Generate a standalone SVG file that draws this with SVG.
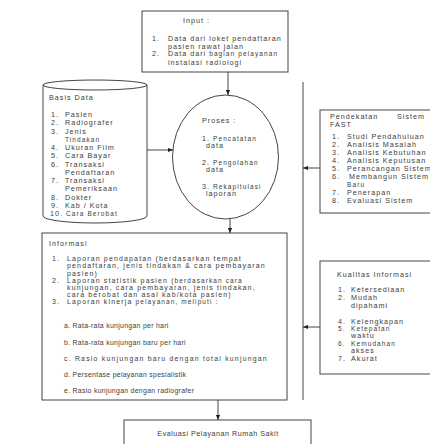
<svg xmlns="http://www.w3.org/2000/svg" width="430" height="444" viewBox="0 0 430 444">
<style>
.t{font-family:"Liberation Sans",Arial,sans-serif;font-size:7.2px;fill:#3c3c3c;letter-spacing:1px}
.i{font-size:7px;letter-spacing:1.15px}
.s{font-size:6.5px;letter-spacing:1.1px}
.m{font-size:6.9px;letter-spacing:0.3px}
.box{fill:#fff;stroke:#444;stroke-width:1}
.ln{fill:none;stroke:#444;stroke-width:1}
</style>
<defs>
<marker id="ah" viewBox="0 0 6 6" refX="6" refY="3" markerWidth="5" markerHeight="5" orient="auto"><path d="M0,0.5 L6,3 L0,5.5 z" fill="#222"/></marker>
</defs>
<rect width="430" height="444" fill="#fff"/>

<g id="outer-right">
<path class="ln" d="M303,82 V400"/>
</g>

<g id="input">
<rect class="box" x="142" y="11" width="146" height="61"/>
<text class="t" x="183" y="23">Input :</text>
<text class="t" x="152" y="41">1.</text>
<text class="t" x="168" y="41">Data dari loket pendaftaran</text>
<text class="t" x="168" y="48.5">pasien rawat jalan</text>
<text class="t" x="152" y="56">2.</text>
<text class="t" x="168" y="56">Data dari <tspan class="s">bagian pelayanan</tspan></text>
<text class="t" x="168" y="65">instalasi radiologi</text>
</g>

<g id="basis-data">
<path class="box" d="M43,85 V216 A52,7 0 0 0 147,216 V85"/>
<ellipse class="box" cx="95" cy="85" rx="52" ry="5"/>
<text class="t" x="49" y="100">Basis Data</text>
<text class="t" x="51" y="117">1.</text><text class="t" x="65" y="117">Pasien</text>
<text class="t" x="51" y="125.2">2.</text><text class="t" x="65" y="125.2">Radiografer</text>
<text class="t" x="51" y="133.5">3.</text><text class="t" x="65" y="133.5">Jenis</text>
<text class="t s" x="65" y="141.7">Tindakan</text>
<text class="t" x="51" y="150">4.</text><text class="t" x="65" y="150">Ukuran Film</text>
<text class="t" x="51" y="158.2">5.</text><text class="t" x="65" y="158.2">Cara Bayar</text>
<text class="t" x="51" y="166.5">6.</text><text class="t" x="65" y="166.5">Transaksi</text>
<text class="t" x="65" y="174.7">Pendaftaran</text>
<text class="t" x="51" y="183">7.</text><text class="t" x="65" y="183">Transaksi</text>
<text class="t" x="65" y="191.2">Pemeriksaan</text>
<text class="t" x="51" y="199.5">8.</text><text class="t" x="65" y="199.5">Dokter</text>
<text class="t" x="51" y="207.7">9.</text><text class="t" x="65" y="207.7">Kab / Kota</text>
<text class="t" x="50" y="216">10.</text><text class="t s" x="66" y="216">Cara Berobat</text>
</g>

<g id="proses">
<ellipse class="box" cx="225.5" cy="157" rx="53" ry="62"/>
<text class="t" x="202" y="123">Proses :</text>
<text class="t" x="202" y="140.5">1.  <tspan class="s">Pencatatan</tspan></text>
<text class="t" x="206" y="148">data</text>
<text class="t" x="202" y="164.5">2. <tspan class="s">Pengolahan</tspan></text>
<text class="t" x="206" y="172">data</text>
<text class="t" x="202" y="188.5">3. <tspan class="s">Rekapitulasi</tspan></text>
<text class="t" x="206" y="196">laporan</text>
</g>

<g id="fast">
<rect class="box" x="320" y="110" width="120" height="103"/>
<text class="t" x="330" y="119">Pendekatan</text>
<text class="t" x="397" y="119">Sistem</text>
<text class="t" x="330" y="127">FAST</text>
<text class="t" x="332" y="139">1.</text><text class="t" x="347" y="139">Studi Pendahuluan</text>
<text class="t" x="332" y="147">2.</text><text class="t" x="347" y="147">Analisis Masalah</text>
<text class="t" x="332" y="155">3.</text><text class="t" x="347" y="155">Analisis Kebutuhan</text>
<text class="t" x="332" y="163">4.</text><text class="t" x="347" y="163">Analisis Keputusan</text>
<text class="t" x="332" y="171">5.</text><text class="t" x="347" y="171">Perancangan Sistem</text>
<text class="t" x="332" y="179">6.</text><text class="t" x="349" y="179">Membangun Sistem</text>
<text class="t s" x="347" y="187">Baru</text>
<text class="t" x="332" y="195">7.</text><text class="t" x="347" y="195">Penerapan</text>
<text class="t" x="332" y="203">8.</text><text class="t" x="347" y="203">Evaluasi Sistem</text>
</g>

<g id="kualitas">
<rect class="box" x="320" y="261" width="120" height="113"/>
<text class="t" x="337" y="277">Kualitas Informasi</text>
<text class="t" x="338" y="292">1.</text><text class="t" x="351" y="292">Ketersediaan</text>
<text class="t" x="338" y="300">2.</text><text class="t" x="351" y="300">Mudah</text>
<text class="t" x="351" y="308">dipahami</text>
<text class="t" x="338" y="324">4.</text><text class="t" x="351" y="324">Kelengkapan</text>
<text class="t s" x="338" y="331">5.</text><text class="t s" x="351" y="331">Ketepatan</text>
<text class="t" x="351" y="338">waktu</text>
<text class="t s" x="338" y="346">6.</text><text class="t s" x="351" y="346">Kemudahan</text>
<text class="t" x="351" y="353">akses</text>
<text class="t" x="338" y="361">7.</text><text class="t" x="351" y="361">Akurat</text>
</g>

<g id="informasi">
<rect class="box" x="42" y="233" width="245" height="167"/>
<text class="t" x="49" y="246">Informasi</text>
<text class="t i" x="52" y="261">1.</text>
<text class="t i" x="67" y="261">Laporan pendapatan (berdasarkan tempat</text>
<text class="t i" x="67" y="268.3">pendaftaran, jenis tindakan &amp; cara pembayaran</text>
<text class="t i" x="67" y="275.6">pasien)</text>
<text class="t i" x="52" y="282.5">2.</text>
<text class="t i" x="67" y="282.5">Laporan statistik pasien <tspan class="s">(berdasarkan cara</tspan></text>
<text class="t i" x="67" y="289.5">kunjungan, cara pembayaran, jenis tindakan,</text>
<text class="t i" x="67" y="296.5">cara berobat dan asal kab/kota pasien)</text>
<text class="t i" x="52" y="304">3.</text>
<text class="t i" x="67" y="304">Laporan kinerja <tspan class="s">pelayanan, meliputi :</tspan></text>
<text class="t m" x="64" y="328">a. Rata-rata kunjungan per hari</text>
<text class="t m" x="64" y="344.5">b. Rata-rata kunjungan baru per hari</text>
<text class="t m" x="64" y="360.5" textLength="203" lengthAdjust="spacing">c. Rasio kunjungan baru dengan total  kunjungan</text>
<text class="t m" x="64" y="376.5">d. Persentase pelayanan spesialistik</text>
<text class="t m" x="64" y="392.5">e. Rasio kunjungan dengan radiografer</text>
</g>

<g id="evaluasi">
<rect class="box" x="124" y="420" width="187" height="40"/>
<text class="t" x="218" y="436" text-anchor="middle" style="letter-spacing:0.5px">Evaluasi Pelayanan Rumah Sakit</text>
</g>

<g id="connectors">
<path class="ln" d="M228,72 V95" marker-end="url(#ah)"/>
<path class="ln" d="M147,150 H173" marker-end="url(#ah)"/>
<path class="ln" d="M230,219 V233" marker-end="url(#ah)"/>
<path class="ln" d="M320,168 H303" marker-end="url(#ah)"/>
<path class="ln" d="M320,327 H303" marker-end="url(#ah)"/>
<path class="ln" d="M218,400 V420" marker-end="url(#ah)"/>
</g>
</svg>
